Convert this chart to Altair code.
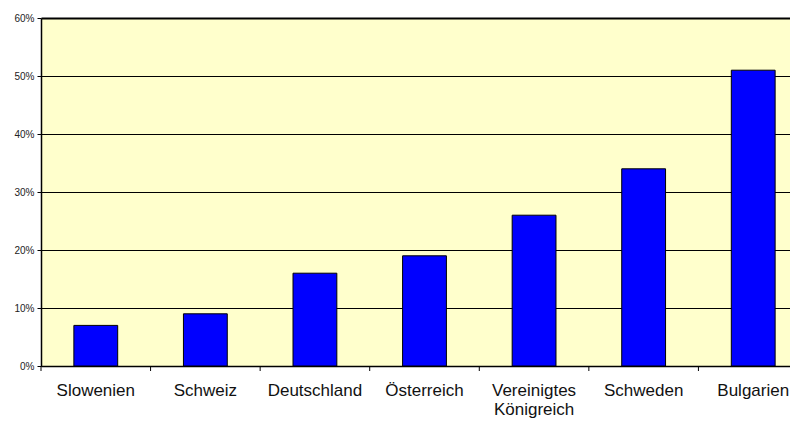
import altair as alt
import pandas as pd

countries = ["Slowenien", "Schweiz", "Deutschland", "Österreich",
             "Vereinigtes Königreich", "Schweden", "Bulgarien"]
shares = [0.07, 0.09, 0.16, 0.19, 0.26, 0.34, 0.51]
y_ticks = [0, 0.1, 0.2, 0.3, 0.4, 0.5, 0.6]

df = pd.DataFrame({"Land": countries, "Anteil": shares})
bounds = pd.DataFrame({"b": list(range(len(countries) + 1))})

FONT = "Arial, Liberation Sans, sans-serif"
XRANGE = [0, 767]

bars = alt.Chart(df).mark_bar(
    color="#0000FF", stroke="#000000", strokeWidth=1
).encode(
    x=alt.X(
        "Land:N", sort=None, title=None,
        scale=alt.Scale(range=XRANGE, paddingInner=0.6, paddingOuter=0.3),
        axis=alt.Axis(
            labelAngle=0, ticks=False,
            domainColor="#000000", domainWidth=1.5,
            labelFont=FONT, labelFontSize=17,
            labelColor="#111111", labelPadding=16, labelLineHeight=19,
            labelExpr="split(datum.label, ' ')", labelOverlap=False,
            labelLimit=300, grid=False,
        ),
    ),
    y=alt.Y(
        "Anteil:Q", title=None,
        scale=alt.Scale(domain=[0, 0.6], nice=False),
        axis=alt.Axis(
            values=y_ticks, format=".0%", tickSize=4, tickColor="#000000",
            domainColor="#000000", domainWidth=1.5,
            labelFont=FONT, labelFontSize=10,
            labelColor="#222222", labelPadding=3, grid=True,
            gridColor="#000000", gridOpacity=1,
            gridWidth={"condition": {"test": "datum.value >= 0.6", "value": 2}, "value": 1},
        ),
    ),
)

ticks = alt.Chart(bounds).mark_rule(color="#000000", strokeWidth=1).encode(
    x=alt.X("b:Q", scale=alt.Scale(domain=[0, len(countries)], range=XRANGE), axis=None),
    y=alt.value(348),
    y2=alt.value(353),
)

chart = alt.layer(bars, ticks).resolve_scale(x="independent").properties(
    width=749, height=348,
    autosize=alt.AutoSizeParams(type="none"),
    padding={"left": 33, "top": 10, "right": 0, "bottom": 52},
).configure_view(fill="#FFFFCC", stroke=None)

chart.save("out.html", embed_options={"renderer": "svg", "actions": False})
